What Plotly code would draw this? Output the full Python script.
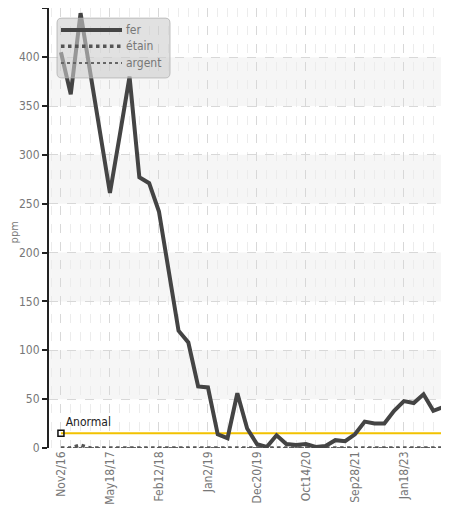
import plotly.graph_objects as go

idx = list(range(40))
fer = [405, 362, 445, 384, 322, 261, 320, 380, 277, 271,
       242, 180, 120, 108, 63, 62, 14, 10, 56, 20,
       4, 1, 13, 4, 3, 4, 1, 2, 8, 7,
       14, 27, 25, 25, 38, 48, 46, 55, 38, 42]
etain = [0, 0, 3, 0, 0, 0, 0, 0, 0, 0,
         0, 0, 0, 0, 0, 0, 0, 0, 0, 0,
         0, 0, 0, 0, 0, 0, 0, 0, 0, 0,
         0, 0, 0, 0, 0, 0, 0, 0, 0, 0]
argent = [0] * 40
tick_pos = [0, 5, 10, 15, 20, 25, 30, 35]
tick_labels = ["Nov2/16", "May18/17", "Feb12/18", "Jan2/19", "Dec20/19",
               "Oct14/20", "Sep28/21", "Jan18/23"]
y_ticks = [0, 50, 100, 150, 200, 250, 300, 350, 400, 450]
seuil = 15
seuil_label = "Anormal"
series_names = ["fer", "étain", "argent"]

FONT = "DejaVu Sans Condensed, Liberation Sans Narrow, Roboto, sans-serif"
fig = go.Figure()

fig.add_trace(go.Scatter(x=[idx[0], 39.6], y=[seuil, seuil], mode="lines",
                         line=dict(color="#f2c200", width=2), showlegend=False,
                         hoverinfo="skip"))
fig.add_trace(go.Scatter(x=[idx[0]], y=[seuil], mode="markers+text",
                         marker=dict(symbol="square-open", size=6, color="#111",
                                     line=dict(width=1.5)),
                         text=[seuil_label], textposition="top right",
                         textfont=dict(family=FONT, size=12, color="#222"),
                         showlegend=False, hoverinfo="skip"))

styles = {
    "fer": dict(color="#444", width=4),
    "étain": dict(color="#555", width=3.5, dash="dot"),
    "argent": dict(color="#666", width=2, dash="dot"),
}
fig.add_trace(go.Scatter(x=idx, y=argent, name="argent", mode="lines",
                         line=styles["argent"], showlegend=False))
fig.add_trace(go.Scatter(x=idx, y=etain, name="étain", mode="lines",
                         line=styles["étain"], showlegend=False))
fig.add_trace(go.Scatter(x=idx, y=fer, name="fer", mode="lines",
                         line=styles["fer"], showlegend=False))

shapes = []
for lo in [50, 150, 250, 350]:
    shapes.append(dict(type="rect", xref="paper", yref="y", x0=0, x1=1,
                       y0=lo, y1=lo + 50, fillcolor="#f6f6f6", line_width=0,
                       layer="below"))

# custom legend box (paper coords)
x0, x1, y0, y1 = 0.02, 0.3025, 0.841, 0.977
rx, ry = 0.012, 0.011
path = (f"M{x0+rx},{y0} L{x1-rx},{y0} Q{x1},{y0} {x1},{y0+ry} "
        f"L{x1},{y1-ry} Q{x1},{y1} {x1-rx},{y1} L{x0+rx},{y1} "
        f"Q{x0},{y1} {x0},{y1-ry} L{x0},{y0+ry} Q{x0},{y0} {x0+rx},{y0} Z")
shapes.append(dict(type="path", xref="paper", yref="paper", path=path,
                   fillcolor="rgba(205,205,205,0.6)",
                   line=dict(color="rgba(170,170,170,0.7)", width=1),
                   layer="above"))
annotations = []
for name, ly in zip(series_names, [0.95, 0.913, 0.875]):
    st = styles[name]
    shapes.append(dict(type="line", xref="paper", yref="paper",
                       x0=0.03, x1=0.1825, y0=ly, y1=ly,
                       line=dict(color=st["color"], width=st["width"],
                                 dash=st.get("dash", "solid")),
                       layer="above"))
    annotations.append(dict(xref="paper", yref="paper", x=0.188, y=ly,
                            text=name, showarrow=False, xanchor="left",
                            yanchor="middle",
                            font=dict(family=FONT, size=12, color="#777")))
# y axis title
annotations.append(dict(xref="paper", yref="paper", x=-0.0875, y=0.49,
                        text="ppm", showarrow=False, textangle=-90,
                        xanchor="center", yanchor="middle",
                        font=dict(family=FONT, size=11, color="#777")))

# page body keeps its default 8px margin: figure is sized/offset to compensate
fig.update_layout(
    width=441, height=501,
    margin=dict(l=41, r=0, t=0, b=61, autoexpand=False),
    paper_bgcolor="white", plot_bgcolor="white",
    font=dict(family=FONT, color="#777", size=12),
    shapes=shapes, annotations=annotations,
    showlegend=False,
    xaxis=dict(range=[-1.22, 39.6], tickmode="array", tickvals=tick_pos,
               ticktext=tick_labels, tickangle=-90, showgrid=True,
               gridcolor="#d8d8d8", griddash="dash", gridwidth=1,
               zeroline=False, showline=False, ticks="", automargin=False,
               tickfont=dict(family=FONT, size=12, color="#777"),
               minor=dict(tickmode="linear", tick0=0, dtick=1, showgrid=True,
                          gridcolor="#ececec", griddash="dash", gridwidth=1)),
    yaxis=dict(range=[0, 450.3], tickmode="array", tickvals=y_ticks,
               showgrid=True, gridcolor="#d8d8d8", griddash="dash",
               zeroline=False, showline=True, linecolor="#222", linewidth=2,
               ticks="outside", ticklen=5, tickcolor="#222", tickwidth=2,
               automargin=False,
               tickfont=dict(family=FONT, size=12, color="#777")),
)

fig.write_html("out.html", config={"displayModeBar": False})
